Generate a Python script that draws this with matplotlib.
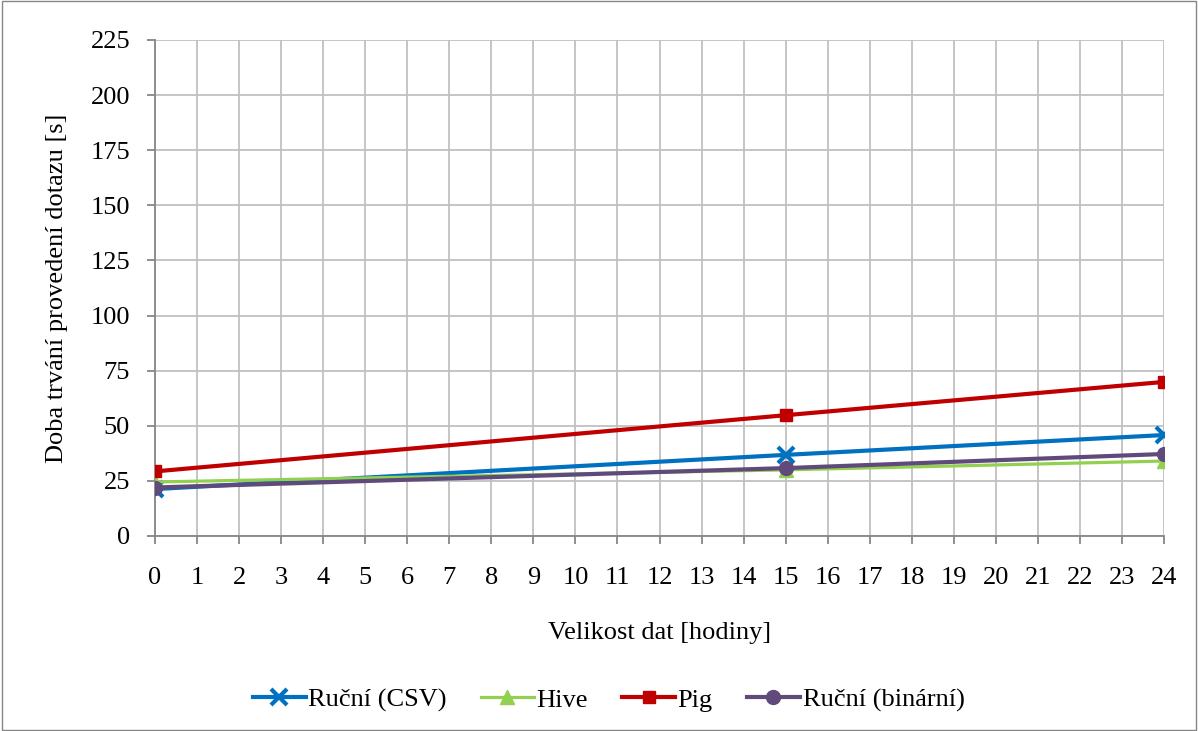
import matplotlib
matplotlib.use("Agg")
import matplotlib.pyplot as plt
from matplotlib.patches import Rectangle

plt.rcParams['font.family'] = ['Liberation Serif', 'DejaVu Serif']

# data
x_vals = [0, 15, 24]
rucni_csv = [21.3, 36.8, 45.8]
hive = [24.5, 30.0, 34.0]
pig = [29.3, 54.8, 69.9]
rucni_bin = [22.0, 30.8, 37.2]

fig = plt.figure(figsize=(11.98, 7.31), dpi=100)
ax = fig.add_axes([155/1198, 1 - 536/731, (1164-155)/1198, (536-40)/731])

ax.plot(x_vals, rucni_csv, color='#0070c0', lw=3, marker='x', ms=12, mew=3, label='Ruční (CSV)', zorder=3)
ax.plot(x_vals, hive, color='#92d050', lw=2.3, marker='^', ms=10, label='Hive', zorder=3)
ax.plot(x_vals, pig, color='#c00000', lw=3, marker='s', ms=9, label='Pig', zorder=4)
ax.plot(x_vals, rucni_bin, color='#604a7b', lw=3, marker='o', ms=10, label='Ruční (binární)', zorder=5)

ax.set_xlim(0, 24)
ax.set_ylim(0, 225)
ax.set_xticks(range(0, 25))
ax.set_yticks(range(0, 226, 25))
ax.grid(True, color='#c0c0c0', lw=1.3)
ax.set_axisbelow(True)
for s in ['top', 'right']:
    ax.spines[s].set_visible(False)
ax.spines['left'].set_color('#868686')
ax.spines['bottom'].set_color('#868686')
ax.spines['left'].set_linewidth(1.3)
ax.spines['bottom'].set_linewidth(1.3)
ax.tick_params(axis='both', labelsize=19, color='#868686', length=6, width=1.3)
ax.tick_params(axis='x', pad=16)
ax.tick_params(axis='y', pad=12)

ax.set_xlabel('Velikost dat [hodiny]', fontsize=19, labelpad=24)
ax.set_ylabel('Doba trvání provedení dotazu [s]', fontsize=19, labelpad=16)

fig.legend(loc='center', bbox_to_anchor=(0.508, 1 - 700/731), ncol=4, frameon=False,
           fontsize=19, handlelength=2.0, columnspacing=1.3, handletextpad=0.1)

fig.patches.append(Rectangle((0.002, 0.002), 0.996, 0.996, transform=fig.transFigure,
                             fill=False, edgecolor='#868686', lw=1))

fig.savefig('out.png', dpi=100)
